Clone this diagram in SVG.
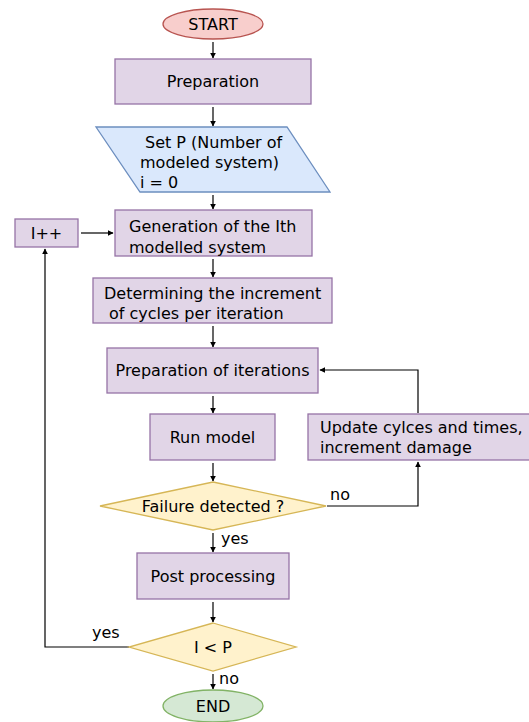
<svg xmlns="http://www.w3.org/2000/svg" width="529" height="722" viewBox="0 0 529 722">
<style>
text{font-family:"DejaVu Sans","Verdana",sans-serif;font-size:16px;fill:#000}
.c{text-anchor:middle;dominant-baseline:central}
.l{dominant-baseline:central}
.p{fill:#e1d5e7;stroke:#9673a6;stroke-width:1.3}
.y{fill:#fff2cc;stroke:#d6b656;stroke-width:1.3}
.e{stroke:#000;stroke-width:1.2;fill:none}
</style>
<defs>
<marker id="a" viewBox="0 0 10 10" refX="9" refY="5" markerWidth="6" markerHeight="6" markerUnits="userSpaceOnUse" orient="auto">
<path d="M0,0 L10,5 L0,10 z" fill="#000"/>
</marker>
</defs>
<g id="connectors">
<path class="e" d="M213,42 V58" marker-end="url(#a)"/>
<path class="e" d="M213,107 V126" marker-end="url(#a)"/>
<path class="e" d="M213,195 V209" marker-end="url(#a)"/>
<path class="e" d="M213,259 V277" marker-end="url(#a)"/>
<path class="e" d="M213,326 V347" marker-end="url(#a)"/>
<path class="e" d="M213,396 V413" marker-end="url(#a)"/>
<path class="e" d="M213,463 V481" marker-end="url(#a)"/>
<path class="e" d="M213,533 V552" marker-end="url(#a)"/>
<path class="e" d="M213,602 V622" marker-end="url(#a)"/>
<path class="e" d="M213,674 V689" marker-end="url(#a)"/>
<path class="e" d="M81,233 H113" marker-end="url(#a)"/>
<path class="e" d="M418,413 V370 H320" marker-end="url(#a)"/>
<path class="e" d="M327,506 H418 V462" marker-end="url(#a)"/>
<path class="e" d="M129,647 H45 V249" marker-end="url(#a)"/>
<text x="330" y="494" class="l">no</text>
<text x="221" y="538" class="l">yes</text>
<text x="92" y="632" class="l">yes</text>
<text x="219" y="678" class="l">no</text>
</g>
<g id="start">
<ellipse cx="213" cy="24" rx="50" ry="15" fill="#f8cecc" stroke="#b85450" stroke-width="1.3"/>
<text x="213" y="24" class="c">START</text>
</g>
<g id="preparation">
<rect class="p" x="115" y="59" width="196" height="45"/>
<text x="213" y="81" class="c">Preparation</text>
</g>
<g id="setP">
<polygon points="96,127 287,127 330,192 140,192" fill="#dae8fc" stroke="#6c8ebf" stroke-width="1.3"/>
<text x="145" y="142" class="l">Set P (Number of</text>
<text x="140" y="162" class="l">modeled system)</text>
<text x="140" y="182" class="l">i = 0</text>
</g>
<g id="iplus">
<rect class="p" x="15" y="219" width="63" height="28"/>
<text x="46.5" y="233" class="c">I++</text>
</g>
<g id="generation">
<rect class="p" x="115" y="210" width="197" height="46"/>
<text x="129" y="226" class="l">Generation of the Ith</text>
<text x="129" y="247" class="l">modelled system</text>
</g>
<g id="determining">
<rect class="p" x="93" y="278" width="239" height="45"/>
<text x="104" y="293" class="l">Determining the increment</text>
<text x="109" y="313" class="l">of cycles per iteration</text>
</g>
<g id="prepIterations">
<rect class="p" x="107" y="348" width="211" height="45"/>
<text x="212.5" y="370" class="c">Preparation of iterations</text>
</g>
<g id="runModel">
<rect class="p" x="150" y="414" width="125" height="46"/>
<text x="212.5" y="437" class="c">Run model</text>
</g>
<g id="update">
<rect class="p" x="308" y="414" width="222" height="46"/>
<text x="320" y="427" class="l">Update cylces and times,</text>
<text x="320" y="447" class="l">increment damage</text>
</g>
<g id="failure">
<polygon class="y" points="213,482 326,506 213,530 100,506"/>
<text x="213" y="506" class="c">Failure detected ?</text>
</g>
<g id="post">
<rect class="p" x="137" y="553" width="152" height="46"/>
<text x="213" y="576" class="c">Post processing</text>
</g>
<g id="iltp">
<polygon class="y" points="213,623 296,647 213,671 129,647"/>
<text x="213" y="647" class="c">I &lt; P</text>
</g>
<g id="end">
<ellipse cx="213" cy="706" rx="50" ry="16" fill="#d5e8d4" stroke="#82b366" stroke-width="1.3"/>
<text x="213" y="706" class="c">END</text>
</g>
</svg>
